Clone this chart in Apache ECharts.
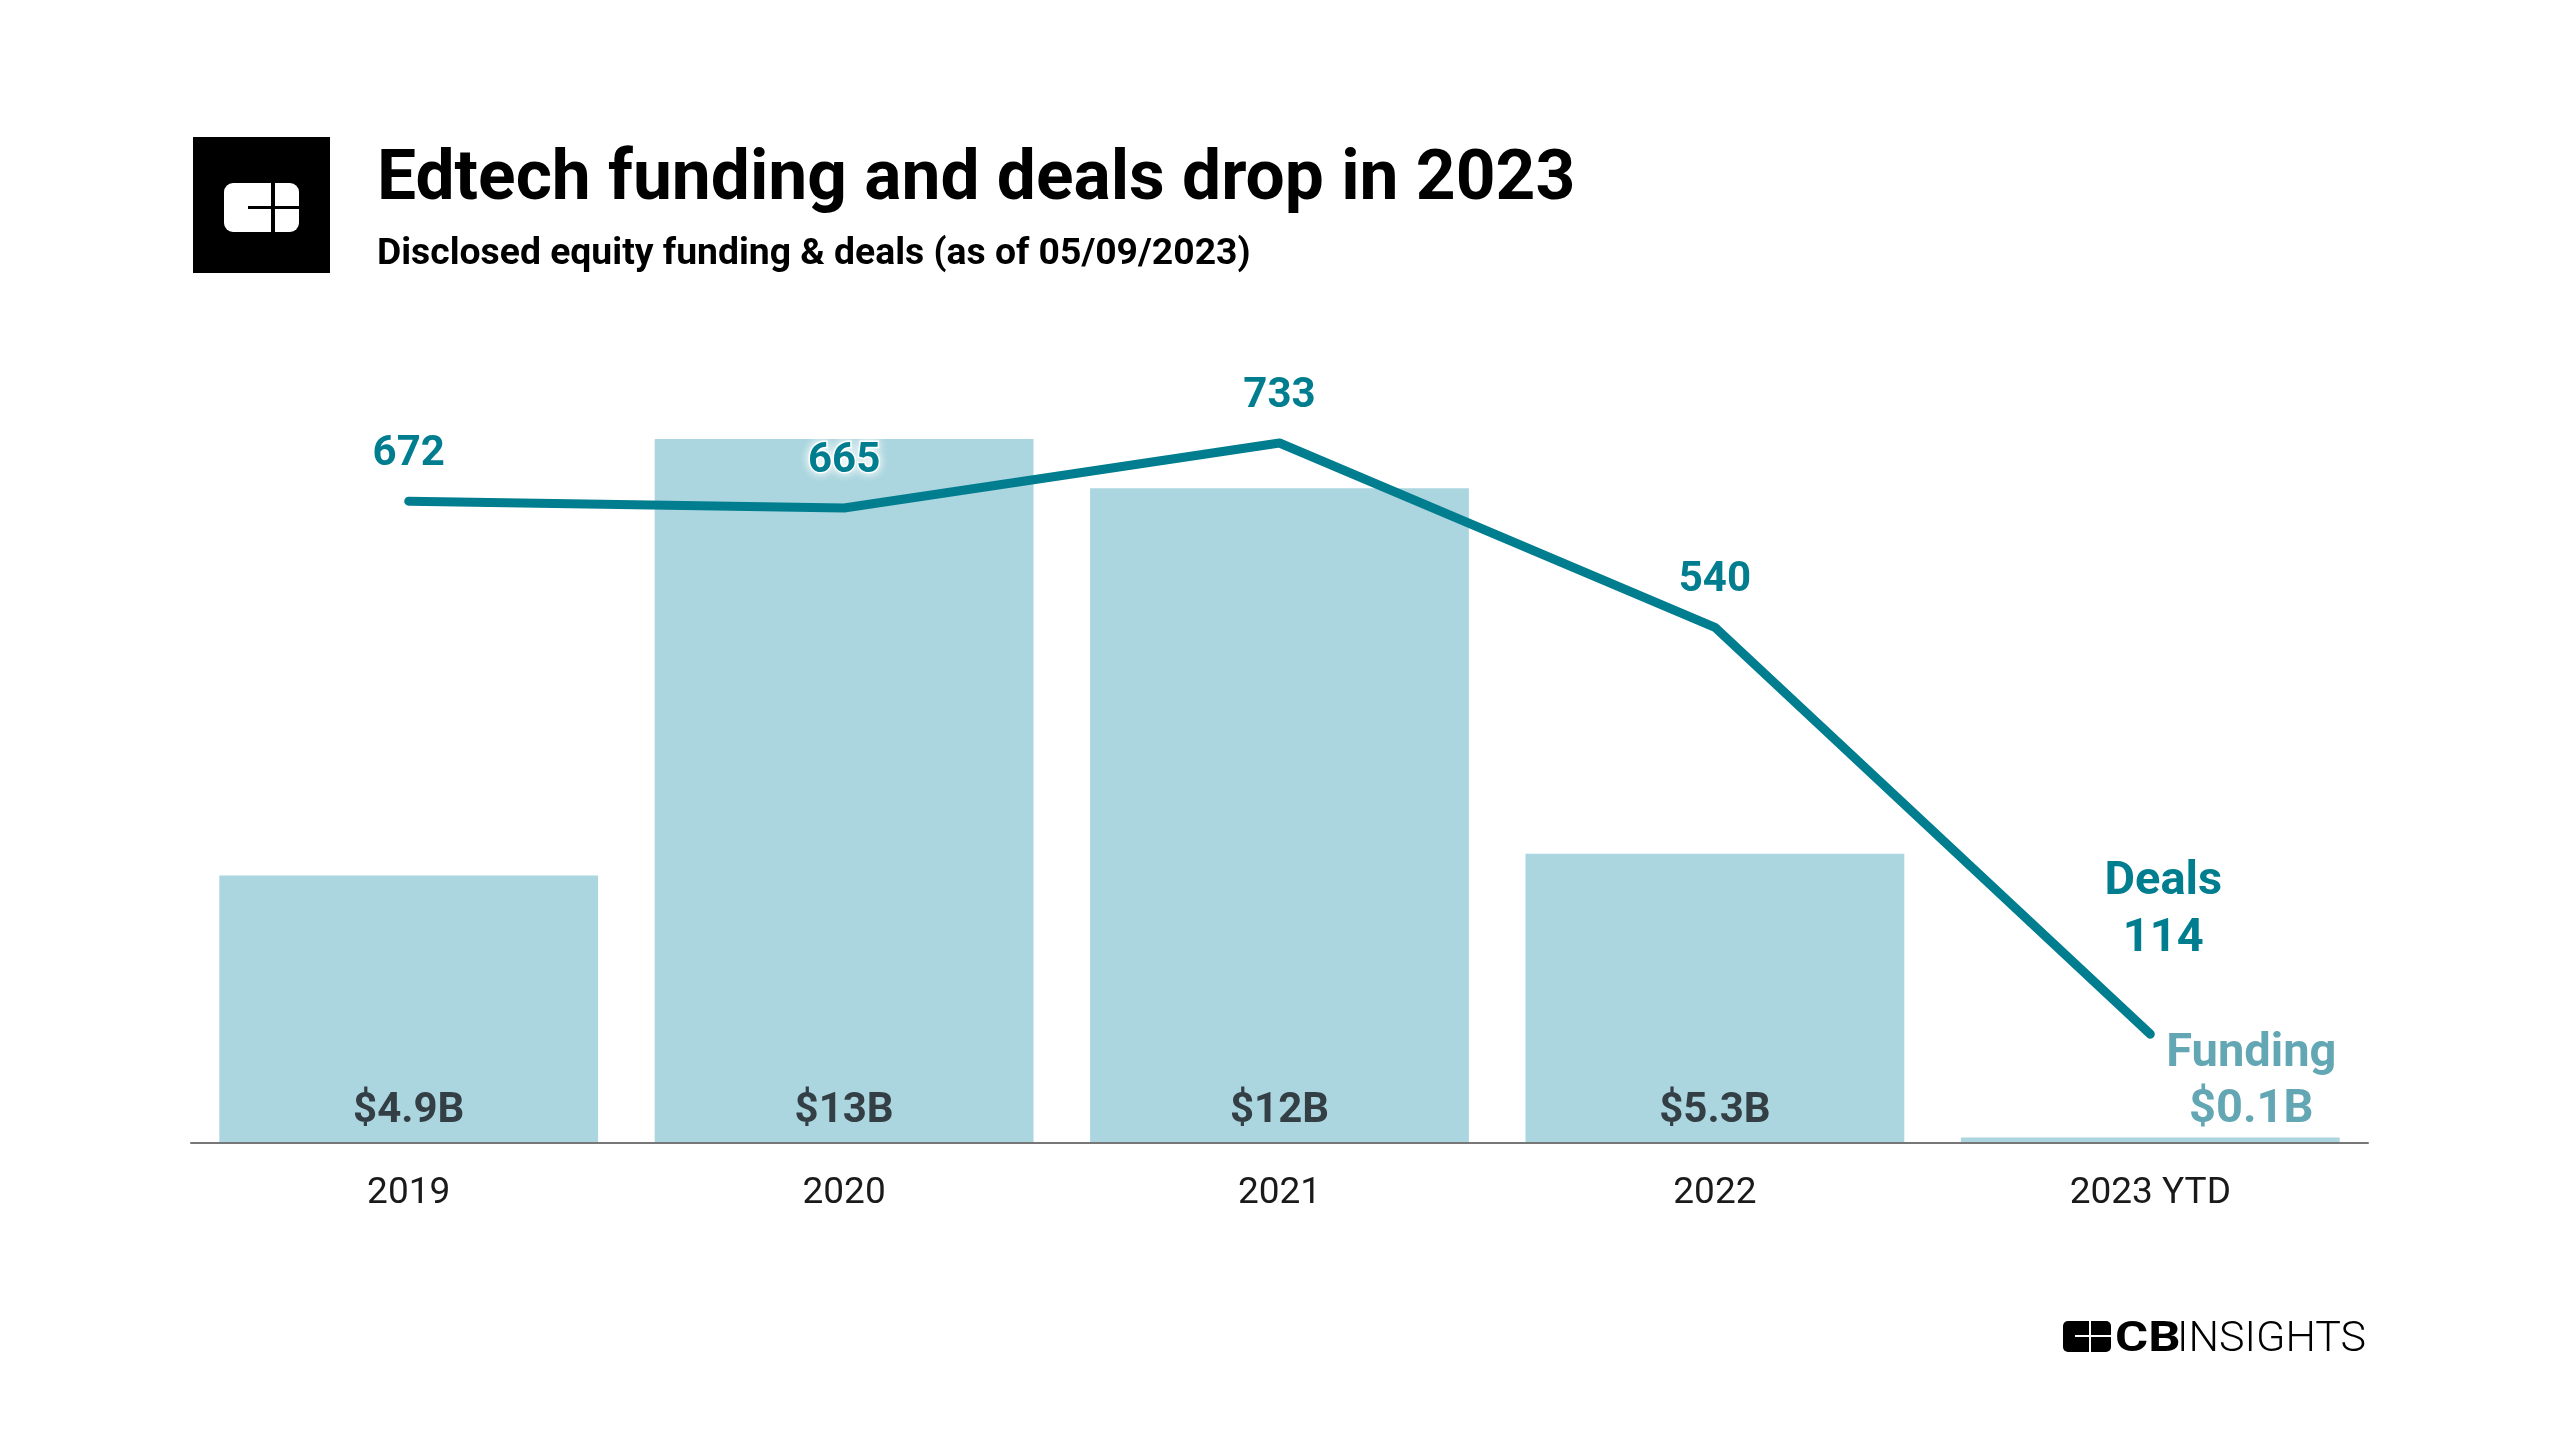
<!DOCTYPE html>
<html>
<head>
<meta charset="utf-8">
<script src="https://cdn.jsdelivr.net/npm/echarts@6/dist/echarts.min.js"></script>
<style>
html,body{margin:0;padding:0;background:#fff;}
#chart{width:2561px;height:1441px;}
</style>
</head>
<body>
<div id="chart"></div>
<script>
const categories = ['2019', '2020', '2021', '2022', '2023 YTD'];
const fundingValues = [4.9, 12.9, 12, 5.3, 0.1];
const fundingLabels = ['$4.9B', '$13B', '$12B', '$5.3B', '$0.1B'];
const dealValues = [672, 665, 733, 540, 114];
const titleText = 'Edtech funding and deals drop in 2023';
const subtitleText = 'Disclosed equity funding & deals (as of 05/09/2023)';

const TEAL = '#007E8F';
const BAR = '#ABD6DF';
const FUND_LAST = '#63A6B4';
const FONT = 'Roboto, "Noto Sans", sans-serif';

const chart = echarts.init(document.getElementById('chart'), null, {renderer: 'canvas'});

const barData = fundingValues.map((v, i) => {
  const last = i === fundingValues.length - 1;
  return {
    value: v,
    label: last ? {
      show: true,
      position: 'insideBottom',
      distance: 5,
      offset: [101, 0],
      formatter: 'Funding\n' + fundingLabels[i],
      color: FUND_LAST,
      fontSize: 47,
      fontWeight: 'bold',
      lineHeight: 56,
      fontFamily: FONT
    } : {
      show: true,
      position: 'insideBottom',
      distance: 7,
      formatter: fundingLabels[i],
      color: '#333F45',
      fontSize: 42,
      fontWeight: 'bold',
      lineHeight: 50,
      fontFamily: FONT
    }
  };
});

const lineData = dealValues.map((v, i) => {
  const last = i === dealValues.length - 1;
  const base = {
    show: true,
    position: 'top',
    distance: 21,
    color: TEAL,
    fontSize: 42,
    fontWeight: 'bold',
    lineHeight: 50,
    fontFamily: FONT,
    formatter: String(v)
  };
  if (i === 1) {
    Object.assign(base, {
      textBorderColor: '#ffffff',
      textBorderWidth: 3,
      textShadowColor: 'rgba(255,255,255,0.95)',
      textShadowBlur: 10
    });
  }
  if (last) {
    Object.assign(base, {
      formatter: 'Deals\n' + v,
      fontSize: 47,
      lineHeight: 57,
      distance: 66,
      padding: [0, 0, 0, 26]
    });
  }
  return {value: v, label: base};
});

const option = {
  backgroundColor: '#ffffff',
  animation: false,
  grid: {left: 191, right: 193, top: 379, bottom: 298, containLabel: false},
  xAxis: {
    type: 'category',
    data: categories,
    axisLine: {show: true, lineStyle: {color: '#777777', width: 2}},
    axisTick: {show: false},
    axisLabel: {
      color: '#1a1a1a',
      fontSize: 37,
      fontFamily: FONT,
      margin: 32
    },
    z: 10
  },
  yAxis: [
    {type: 'value', min: 0, max: 14, show: false},
    {type: 'value', min: 0, max: 800, show: false}
  ],
  series: [
    {
      type: 'bar',
      yAxisIndex: 0,
      data: barData,
      barCategoryGap: '13%',
      itemStyle: {color: BAR},
      z: 2
    },
    {
      type: 'line',
      yAxisIndex: 1,
      data: lineData,
      symbol: 'circle',
      symbolSize: 1,
      showSymbol: true,
      itemStyle: {color: TEAL},
      lineStyle: {color: TEAL, width: 9, cap: 'round', join: 'round'},
      labelLayout: {hideOverlap: false},
      z: 5
    }
  ],
  graphic: [
    {type: 'rect', shape: {x: 193, y: 137, width: 137, height: 136}, style: {fill: '#000000'}},
    {type: 'rect', shape: {x: 224, y: 183, width: 75, height: 49, r: 9}, style: {fill: '#ffffff'}},
    {type: 'rect', shape: {x: 271, y: 183, width: 4, height: 49}, style: {fill: '#000000'}},
    {type: 'rect', shape: {x: 248, y: 206, width: 51, height: 3}, style: {fill: '#000000'}},
    {type: 'text', left: 377, top: 147, style: {text: titleText, font: 'bold 69.5px ' + FONT, fill: '#000000'}},
    {type: 'text', left: 377, top: 236, style: {text: subtitleText, font: 'bold 37.3px ' + FONT, fill: '#000000'}},
    // bottom-right brand logo
    {type: 'rect', shape: {x: 2063, y: 1321, width: 48, height: 31, r: 5}, style: {fill: '#000000'}},
    {type: 'rect', shape: {x: 2089, y: 1321, width: 2, height: 31}, style: {fill: '#ffffff'}},
    {type: 'rect', shape: {x: 2075, y: 1335, width: 36, height: 2}, style: {fill: '#ffffff'}},
    {type: 'text', x: 2115, y: 1319, scaleX: 1.18, style: {text: 'CB', font: 'bold 43px ' + FONT, fill: '#000000', textVerticalAlign: 'top'}},
    {type: 'text', left: 2177, top: 1319, style: {text: 'INSIGHTS', font: '300 43px ' + FONT, fill: '#000000'}}
  ]
};

chart.setOption(option);
</script>
</body>
</html>
